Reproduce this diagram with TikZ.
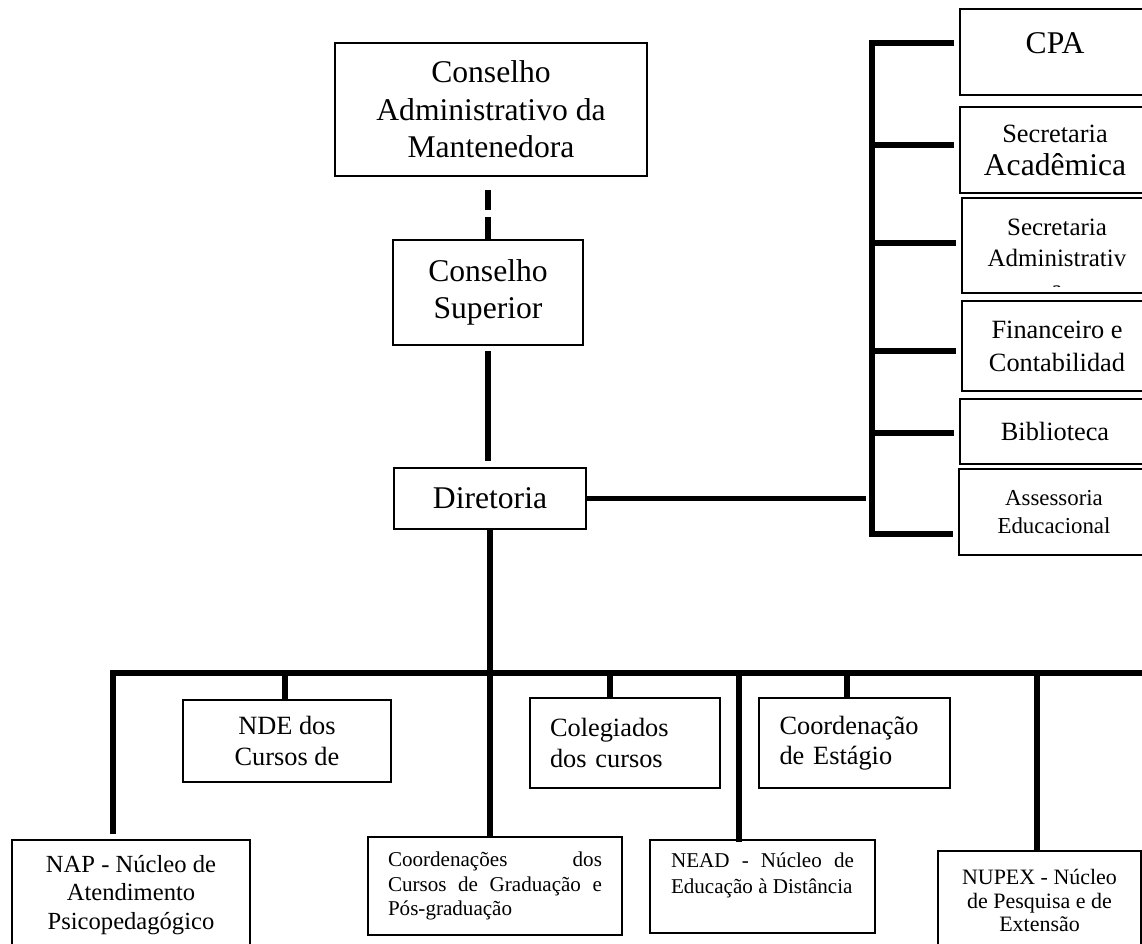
\documentclass[tikz,border=0pt]{standalone}
\usepackage{fontspec}
\setmainfont{Liberation Serif}
\begin{document}
\begin{tikzpicture}[x=0.02cm,y=-0.02cm,
  box/.style={draw,line width=1pt,inner sep=0pt,align=center},
  link/.style={line width=3.1pt},
  dashlink/.style={link,dash pattern=on 12.5pt off 4pt}]
\useasboundingbox (0,0) rectangle (1142,943);

\node[box,minimum width=6.24cm,minimum height=2.66cm,font=\fontsize{18pt}{21.3pt}\selectfont] (adm) at (491,109.5) {Conselho\\Administrativo da\\Mantenedora};
\node[box,minimum width=3.8cm,minimum height=2.1cm,font=\fontsize{18pt}{21pt}\selectfont] (sup) at (488,292.5) {Conselho\\Superior};
\node[box,minimum width=3.84cm,minimum height=1.22cm,font=\fontsize{18pt}{21pt}\selectfont] (dir) at (490,498.5) {Diretoria};

\node[box,minimum width=3.8cm,minimum height=1.72cm] (cpa) at (1055,52) {};
\node[font=\fontsize{18pt}{21pt}\selectfont] (cpatxt) at (1055,43) {CPA};
\node[box,minimum width=3.8cm,minimum height=1.72cm,font=\fontsize{15pt}{18.8pt}\selectfont] (sacad) at (1055,150) {Secretaria\\{\fontsize{18pt}{18.8pt}\selectfont Acadêmica}};
\node[box,minimum width=3.8cm,minimum height=1.9cm] (sadm) at (1057,245.5) {};
\begin{scope}
\clip ([yshift=4pt]sadm.south west) rectangle (sadm.north east);
\node[align=center,font=\fontsize{14.2pt}{17.6pt}\selectfont] (sadmtxt) at (1057,258) {Secretaria\\Administrativ\\a};
\end{scope}
\node[box,minimum width=3.8cm,minimum height=1.8cm,font=\fontsize{15pt}{18.8pt}\selectfont] (fin) at (1057,346) {Financeiro e\\Contabilidad};
\node[box,minimum width=3.8cm,minimum height=1.3cm,font=\fontsize{15pt}{18pt}\selectfont] (bib) at (1055,431.5) {Biblioteca};
\node[box,minimum width=3.8cm,minimum height=1.72cm,font=\fontsize{13pt}{16pt}\selectfont] (ass) at (1054,512) {Assessoria\\Educacional};

\node[box,minimum width=4.16cm,minimum height=1.64cm,font=\fontsize{15pt}{17.6pt}\selectfont] (nde) at (287,741) {NDE dos\\Cursos de};
\node[box,align=left,text width=3cm,inner xsep=0.4cm,minimum height=1.8cm,font=\fontsize{15pt}{17.6pt}\selectfont] (col) at (625,743) {Colegiados\\dos cursos};
\node[box,align=left,text width=3cm,inner xsep=0.41cm,minimum height=1.8cm,font=\fontsize{15pt}{17pt}\selectfont] (est) at (854.5,743) {Coordenação\\de Estágio};

\node[box,minimum width=4.76cm,minimum height=2.2cm,font=\fontsize{14pt}{16.2pt}\selectfont] (nap) at (131,895) {NAP - Núcleo de\\Atendimento\\Psicopedagógico};
\node[box,align=left,minimum width=5.08cm,minimum height=1.96cm,font=\fontsize{12pt}{13.9pt}\selectfont] (coord) at (495,886) {\makebox[4.28cm][s]{Coordenações dos}\\\makebox[4.28cm][s]{Cursos de Graduação e}\\Pós-graduação};
\node[box,align=left,minimum width=4.5cm,minimum height=1.86cm,font=\fontsize{12pt}{14.8pt}\selectfont] (nead) at (762.5,886.5) {\makebox[3.66cm][s]{NEAD - Núcleo de}\\Educação à Distância\\\mbox{}};
\node[box,minimum width=4.06cm,minimum height=1.98cm,font=\fontsize{12.5pt}{13.4pt}\selectfont] (nupex) at (1039.5,900.5) {NUPEX - Núcleo\\de Pesquisa e de\\Extensão};

\draw[dashlink,shorten >=7.4pt] (sup.north) -- (sup.north |- adm.south);
\draw[link,shorten <=2.85pt,shorten >=3.4pt] (sup.south) -- (sup.south |- dir.north);

\coordinate (r1) at (872,43);
\coordinate (r2) at (872,145);
\coordinate (r3) at (872,243);
\coordinate (r4) at (872,351);
\coordinate (r5) at (872,433);
\coordinate (r6) at (872,534);
\draw[link,shorten <=2.85pt,shorten >=2.85pt] (r1 -| cpa.west) -- (r1) -- (r6) -- (r6 -| ass.west);
\foreach \r/\b in {r2/sacad,r3/sadm,r4/fin,r5/bib}
  \draw[link,shorten >=2.85pt] (\r) -- (\r -| \b.west);
\draw[link,shorten >=3.4pt] (dir.east) -- (dir.east -| r1);

\coordinate (tnap) at (113,673);
\coordinate (tnde) at (285,673);
\coordinate (tcol) at (610,673);
\coordinate (tnead) at (739,673);
\coordinate (test) at (847,673);
\coordinate (tnupex) at (1037,673);
\coordinate (tend) at (1150,673);
\draw[link] (dir.south) -- (dir.south |- coord.north);
\draw[link,shorten <=2.85pt] (tnap |- nap.north) -- (tnap) -- (tend);
\foreach \t/\b in {tnde/nde,tcol/col,test/est,tnupex/nupex}
  \draw[link] (\t) -- (\t |- \b.north);
\draw[link,line cap=rect] (tnead) -- (tnead |- nead.north);
\end{tikzpicture}
\end{document}
